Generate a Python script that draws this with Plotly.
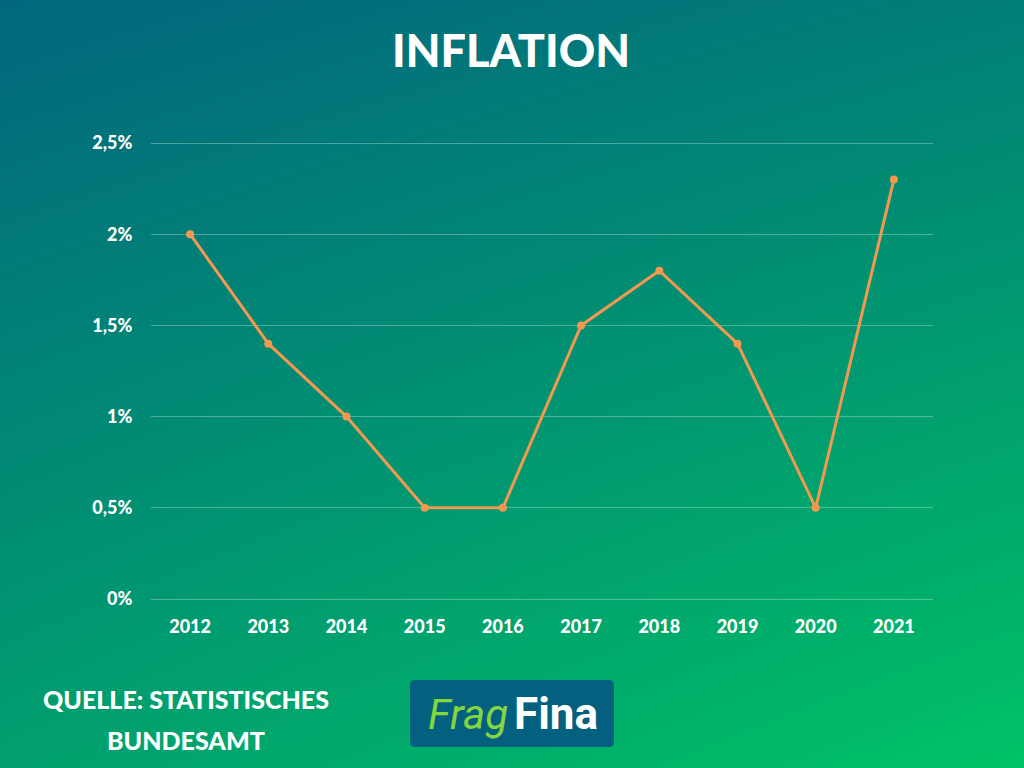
import plotly.graph_objects as go

years = ["2012", "2013", "2014", "2015", "2016", "2017", "2018", "2019", "2020", "2021"]
inflation = [2.0, 1.4, 1.0, 0.5, 0.5, 1.5, 1.8, 1.4, 0.5, 2.3]
y_ticks = [0, 0.5, 1, 1.5, 2, 2.5]
y_labels = ["0%", "0,5%", "1%", "1,5%", "2%", "2,5%"]

W, H = 1024, 768
FONT = "Lato"


# pixel position on the page -> paper fraction
def px(x):
    return x / W


def py(y):
    return 1 - y / H


fig = go.Figure()

# background gradient, 2x2 heatmap smoothed between the four corners
fig.add_trace(go.Heatmap(
    x=[0, 1], y=[0, 1],
    z=[[0.62, 1.0], [0.0, 0.25]],
    zmin=0, zmax=1,
    zsmooth="best",
    showscale=False,
    hoverinfo="skip",
    colorscale=[[0, "#02677e"], [1, "#00c265"]],
    xaxis="x", yaxis="y",
))

fig.add_trace(go.Scatter(
    x=years, y=inflation,
    mode="lines+markers",
    line=dict(color="#f2994f", width=3),
    marker=dict(color="#f2994f", size=8),
    xaxis="x2", yaxis="y2",
))

# rounded logo box
x0, x1, y0, y1 = px(410), px(614), py(747), py(680)
rx, ry = px(5), 5 / H
fig.add_shape(
    type="path", xref="paper", yref="paper", line_width=0, fillcolor="#03607e",
    path=(f"M {x0 + rx} {y0} L {x1 - rx} {y0} Q {x1} {y0} {x1} {y0 + ry} "
          f"L {x1} {y1 - ry} Q {x1} {y1} {x1 - rx} {y1} L {x0 + rx} {y1} "
          f"Q {x0} {y1} {x0} {y1 - ry} L {x0} {y0 + ry} Q {x0} {y0} {x0 + rx} {y0} Z"),
)


def label(text, x, y, size, color="white", family=FONT, **kw):
    fig.add_annotation(
        text=text, x=px(x), y=py(y), xref="paper", yref="paper",
        showarrow=False, xanchor="center", yanchor="middle",
        font=dict(family=family, size=size, color=color, **kw),
    )


label("QUELLE: STATISTISCHES", 186, 699, 25, weight=900)
label("BUNDESAMT", 186, 740, 25, weight=900)
label("Frag", 468, 714, 42, color="#84d63f", family="Roboto", style="italic")
label("Fina", 556, 714, 44, family="Roboto", weight="bold")

fig.update_layout(
    width=W, height=H,
    margin=dict(l=0, r=0, t=0, b=0, autoexpand=False),
    showlegend=False,
    paper_bgcolor="#05907a",
    plot_bgcolor="rgba(0,0,0,0)",
    title=dict(
        text="INFLATION", x=511 / W, xanchor="center", xref="paper",
        y=py(51), yanchor="middle", yref="container",
        font=dict(family=FONT, size=45, color="white", weight=900),
    ),
    xaxis=dict(domain=[0, 1], range=[0, 1], visible=False),
    yaxis=dict(domain=[0, 1], range=[0, 1], visible=False),
    xaxis2=dict(
        domain=[px(151), px(933)], anchor="y2", type="category", range=[-0.5, 9.5],
        showgrid=False, zeroline=False, showline=False,
        ticks="outside", ticklen=8, tickcolor="rgba(0,0,0,0)",
        tickfont=dict(family=FONT, size=18, color="white", weight=900),
    ),
    # range goes a hair past 0 and 2.5, otherwise the grid drops the end lines
    yaxis2=dict(
        domain=[py(602.65), py(139.35)], anchor="x2", range=[-0.02, 2.52],
        tickvals=y_ticks, ticktext=y_labels,
        showgrid=True, gridcolor="rgba(255,255,255,0.3)", gridwidth=1,
        zeroline=False, showline=False,
        ticks="outside", ticklen=14, tickcolor="rgba(0,0,0,0)",
        tickfont=dict(family=FONT, size=18, color="white", weight=900),
    ),
)

fig.write_html("out.html", config={"displayModeBar": False},
               post_script="document.body.style.margin='0';document.body.style.overflow='hidden';")
